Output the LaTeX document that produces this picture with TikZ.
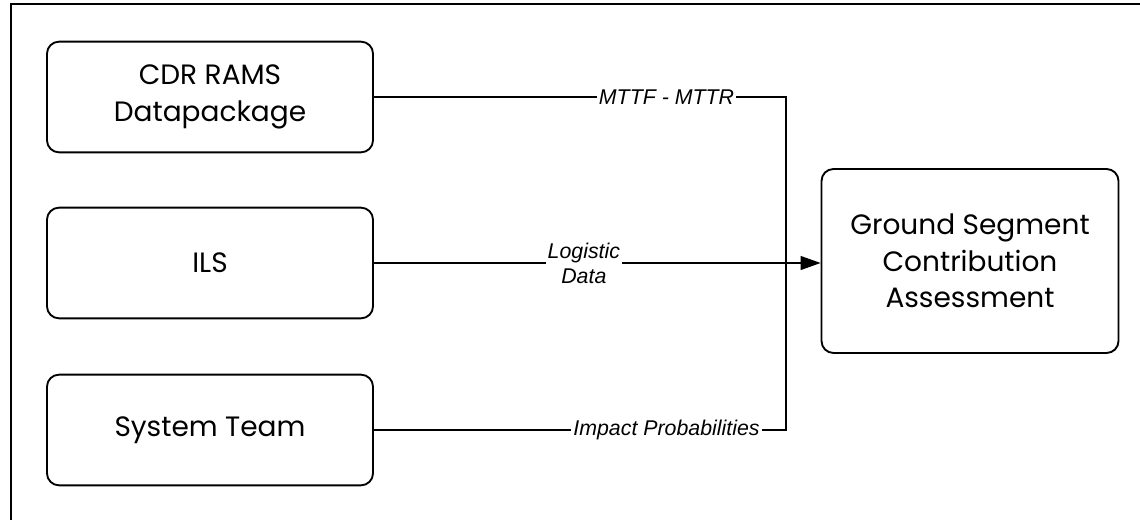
\documentclass[tikz,border=0pt]{standalone}
\usepackage{fontspec}
\setmainfont{Poppins}
\newfontfamily\flowfont{Liberation Sans}
\usetikzlibrary{positioning}
\usetikzlibrary{arrows.meta}

\tikzset{
	block/.style = {draw, line width=1.4pt, rounded corners=9pt, align=center,
		font=\fontsize{21}{27.5}\selectfont},
	flow/.style = {black, line width=0.8pt},
	flowlabel/.style = {fill=white, inner xsep=1.5pt, inner ysep=1pt, align=center,
		font=\flowfont\itshape\fontsize{16}{18.75}\selectfont}
}

\begin{document}
\begin{tikzpicture}[x=0.75pt, y=-0.75pt]
			\useasboundingbox (0, 0) rectangle (1140, 520);
			\draw[line width=1.4pt] (1145, 4)--(11, 4)--(11, 525);
			% sources on the left, assessment on the right
			\node[block, minimum width=244.5pt, minimum height=83pt] (cdr) at (210, 97) {CDR RAMS\\Datapackage};
			\node[block, minimum width=244.5pt, minimum height=83pt] (ils) at (210, 263) {ILS};
			\node[block, minimum width=244.5pt, minimum height=83pt] (team) at (210, 430) {System Team};
			\node[block, minimum width=222.75pt, minimum height=138pt] (gsca) at (970, 261) {Ground Segment\\Contribution\\Assessment};
			\coordinate (bus) at (786, 263);
			% inputs join the main arrow
			\draw[flow] (cdr.east)--node[flowlabel, pos=0.71] {MTTF - MTTR} (cdr.east -| bus)--(bus);
			\draw[flow] (team.east)--node[flowlabel, pos=0.71] {Impact Probabilities} (team.east -| bus)--(bus);
			\draw[flow, -{Triangle[length=15pt, width=10.5pt]}] (ils.east)--node[flowlabel, pos=0.47] {Logistic\\Data} (ils.east -| gsca.west);
		\end{tikzpicture}
\end{document}
